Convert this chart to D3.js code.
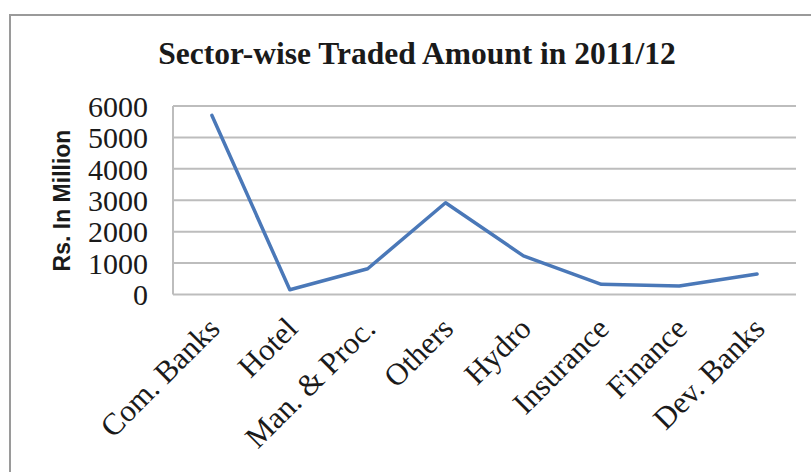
<!DOCTYPE html>
<html>
<head>
<meta charset="utf-8">
<script src="https://cdn.jsdelivr.net/npm/d3@7/dist/d3.min.js"></script>
<style>
  html, body { margin: 0; padding: 0; background: #ffffff; }
  svg { display: block; }
</style>
</head>
<body>
<svg id="chart" width="811" height="472"></svg>
<script>
// Sector-wise traded amount, Rs. in million
const sectors = ["Com. Banks", "Hotel", "Man. & Proc.", "Others", "Hydro", "Insurance", "Finance", "Dev. Banks"];
const amounts = [5700, 150, 820, 2920, 1230, 325, 270, 650];
const yTicks = [0, 1000, 2000, 3000, 4000, 5000, 6000];
const titleText = "Sector-wise Traded Amount in 2011/12";
const yAxisTitle = "Rs. In Million";

const svg = d3.select("#chart");
const plot = { left: 173, right: 796, top: 106, bottom: 294.5 };

// Chart frame (runs off the right and bottom edges)
svg.append("rect")
  .attr("x", 10).attr("y", 15)
  .attr("width", 900).attr("height", 600)
  .attr("fill", "#ffffff")
  .attr("stroke", "#9a9a9a")
  .attr("stroke-width", 2);

// Title
svg.append("text")
  .attr("x", 417).attr("y", 64)
  .attr("text-anchor", "middle")
  .style("font-family", "'Liberation Serif', 'Times New Roman', serif")
  .style("font-weight", "bold")
  .style("font-size", "31.5px")
  .attr("fill", "#1a1a1a")
  .text(titleText);

const x = d3.scalePoint()
  .domain(sectors)
  .range([plot.left, plot.right])
  .padding(0.5);

const y = d3.scaleLinear()
  .domain([0, 6000])
  .range([plot.bottom, plot.top]);

// Horizontal gridlines
svg.append("g")
  .selectAll("line")
  .data(yTicks)
  .join("line")
  .attr("x1", plot.left).attr("x2", plot.right)
  .attr("y1", d => y(d)).attr("y2", d => y(d))
  .attr("stroke", "#bdbdbd")
  .attr("stroke-width", 2);

// Vertical axis line
svg.append("line")
  .attr("x1", plot.left).attr("x2", plot.left)
  .attr("y1", plot.top).attr("y2", plot.bottom)
  .attr("stroke", "#bdbdbd")
  .attr("stroke-width", 2);

// Y axis labels
const yAxis = d3.axisLeft(y).tickValues(yTicks).tickSize(0).tickPadding(0).tickFormat(d3.format("d"));
const yg = svg.append("g")
  .attr("transform", `translate(${plot.left - 25},0)`)
  .call(yAxis);
yg.select(".domain").remove();
yg.selectAll("text")
  .style("font-family", "'Liberation Serif', 'Times New Roman', serif")
  .style("font-size", "30px")
  .attr("fill", "#1a1a1a")
  .attr("dy", "0.34em");

// Y axis title
svg.append("text")
  .attr("transform", "translate(70,200.5) rotate(-90)")
  .attr("text-anchor", "middle")
  .style("font-family", "'Liberation Sans', Arial, sans-serif")
  .style("font-weight", "bold")
  .style("font-size", "23px")
  .attr("fill", "#1a1a1a")
  .text(yAxisTitle);

// Category labels, rotated
const xAxis = d3.axisBottom(x).tickSize(0).tickPadding(0);
const xg = svg.append("g")
  .attr("transform", `translate(0,${plot.bottom})`)
  .call(xAxis);
xg.select(".domain").remove();
xg.selectAll("text")
  .style("font-family", "'Liberation Serif', 'Times New Roman', serif")
  .style("font-size", "31px")
  .attr("fill", "#1a1a1a")
  .attr("text-anchor", "end")
  .attr("y", 0).attr("dy", 0)
  .attr("transform", "translate(9,36) rotate(-45)");

// Data line
const line = d3.line()
  .x((d, i) => x(sectors[i]))
  .y(d => y(d));

svg.append("path")
  .datum(amounts)
  .attr("d", line)
  .attr("fill", "none")
  .attr("stroke", "#4a78b8")
  .attr("stroke-width", 3.5)
  .attr("stroke-linejoin", "round")
  .attr("stroke-linecap", "round");
</script>
</body>
</html>
